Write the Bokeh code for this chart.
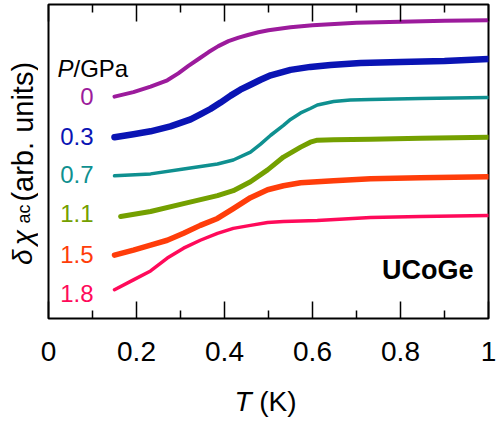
import math
from bokeh.plotting import figure
from bokeh.layouts import row
from bokeh.models import Range1d, Label, LinearAxis, FixedTicker, CustomLabelingPolicy
from bokeh.embed import file_html
from bokeh.resources import INLINE

# ---------------- data ----------------
pressures = ["0", "0.3", "0.7", "1.1", "1.5", "1.8"]
colors = ["#9c1b9c", "#0a14b4", "#0f9090", "#74a000", "#ff3d0a", "#ff0a5a"]
widths = [4, 6.5, 3.5, 5, 5.5, 3.5]

T_0 = [0.150, 0.193, 0.232, 0.270, 0.295, 0.318, 0.341, 0.364, 0.386, 0.409,
       0.432, 0.455, 0.477, 0.500, 0.550, 0.600, 0.700, 0.800, 0.900, 1.000]
chi_0 = [224, 228.5, 234, 240.5, 247.5, 255, 262, 269, 275, 280,
         283.5, 286.5, 289, 291, 294, 296, 298.5, 299.5, 300.5, 301]

T_03 = [0.150, 0.193, 0.232, 0.277, 0.323, 0.345, 0.368, 0.391, 0.414, 0.436,
        0.459, 0.482, 0.505, 0.550, 0.595, 0.641, 0.709, 0.800, 0.900, 1.000]
chi_03 = [183, 186, 189, 194, 201, 206, 211.5, 218, 225, 231,
          236, 241, 245.5, 251, 254, 256, 258, 259, 260, 262]

T_07 = [0.150, 0.232, 0.307, 0.384, 0.420, 0.459, 0.482, 0.505, 0.534, 0.550,
        0.573, 0.595, 0.611, 0.648, 0.686, 0.732, 0.845, 1.000]
chi_07 = [144, 146, 151, 156, 160, 168, 176, 185, 195, 201,
          207.5, 212, 215.5, 219, 220.5, 221, 222, 223]

T_11 = [0.164, 0.232, 0.307, 0.384, 0.420, 0.459, 0.498, 0.534, 0.573, 0.595,
        0.611, 0.648, 0.732, 0.845, 1.000]
chi_11 = [103, 108, 116, 124, 129, 138, 150, 163, 173, 178,
          180, 180.5, 181, 182, 183]

T_15 = [0.150, 0.193, 0.232, 0.270, 0.307, 0.345, 0.384, 0.420, 0.459, 0.498,
        0.534, 0.573, 0.648, 0.732, 0.845, 1.000]
chi_15 = [64, 69, 74, 79, 86, 94, 101, 111, 122, 130,
          134, 137, 139, 141, 142, 143]

T_18 = [0.150, 0.193, 0.232, 0.270, 0.307, 0.345, 0.384, 0.420, 0.459, 0.498,
        0.534, 0.611, 0.732, 0.845, 1.000]
chi_18 = [29, 39, 48, 61, 71, 79, 86, 91, 94, 97,
          98, 99, 102, 103, 104]

series_T = [T_0, T_03, T_07, T_11, T_15, T_18]
series_chi = [chi_0, chi_03, chi_07, chi_11, chi_15, chi_18]

# anchor heights for the pressure labels, in the same arb. units
label_y = [224, 184, 145, 106, 65, 25]

x_ticks = [0, 0.2, 0.4, 0.6, 0.8, 1.0]
x_tick_labels = ["0", "0.2", "0.4", "0.6", "0.8", "1"]
x_minor = [0.1, 0.3, 0.5, 0.7, 0.9]

FONT = "Liberation Sans"
LW = 38  # width of the strip that holds the y-axis title
Y_MAX = 317

p = figure(width=496 - LW, height=425, output_backend="svg", toolbar_location=None,
           x_range=Range1d(0, 1), y_range=Range1d(0, Y_MAX),
           y_axis_type=None,
           min_border_left=48 - LW, min_border_right=8, min_border_top=4,
           min_border_bottom=104)
p.grid.visible = False
p.outline_line_color = "black"
p.outline_line_width = 2
p.background_fill_color = "white"
p.border_fill_color = "white"

xa = p.xaxis[0]
xa.ticker = FixedTicker(ticks=x_ticks, minor_ticks=x_minor)
xa.major_label_overrides = {t: s for t, s in zip(x_ticks, x_tick_labels)}
xa.major_label_text_font = FONT
xa.major_label_text_font_size = "28px"
xa.major_label_text_color = "black"
xa.major_label_standoff = 23
xa.major_tick_in = 17
xa.major_tick_out = 0
xa.minor_tick_in = 8
xa.minor_tick_out = 0
xa.major_tick_line_width = 1.5
xa.minor_tick_line_width = 1.5
xa.axis_line_color = None

top = LinearAxis(ticker=FixedTicker(ticks=x_ticks, minor_ticks=x_minor),
                 major_label_text_font_size="0px", major_label_standoff=0,
                 major_label_policy=CustomLabelingPolicy(code="return []"),
                 major_tick_in=17, major_tick_out=0, minor_tick_in=8, minor_tick_out=0,
                 major_tick_line_width=1.5, minor_tick_line_width=1.5,
                 axis_line_color=None)
p.add_layout(top, "above")

for T, chi, c, w in zip(series_T, series_chi, colors, widths):
    p.line(T, chi, line_color=c, line_width=w, line_join="round", line_cap="round")

def lab(fig, text, x, y, size, color="black", align="left", style="normal",
        angle=0.0, place="center"):
    l = Label(x=x, y=y, text=text, text_font=FONT, text_font_size=size,
              text_color=color, text_align=align, text_font_style=style,
              text_baseline="alphabetic", angle=angle)
    fig.add_layout(l, place)

# pressure labels
for s, c, yy in zip(pressures, colors, label_y):
    lab(p, s, 0.1023, yy, "24px", color=c, align="right")
lab(p, "P", 0.0568, 252.5, "24px", align="right", style="italic")
lab(p, "/GPa", 0.0568, 252.5, "24px", align="left")

lab(p, "UCoGe", 0.9659, 49, "27px", align="right", style="bold")

# x-axis title (in the bottom panel so it is not clipped)
lab(p, "T", 0.4614, -84, "28px", align="right", style="italic", place="below")
lab(p, "\u00a0(K)", 0.4614, -84, "28px", align="left", place="below")

# y-axis title: a narrow strip to the left; its frame lines up with the main frame
q = figure(width=LW, height=425, output_backend="svg", toolbar_location=None,
           x_range=Range1d(0, LW), y_range=Range1d(0, Y_MAX),
           x_axis_type=None, y_axis_type=None, min_border=0)
q.grid.visible = False
q.outline_line_color = None
q.background_fill_color = "white"
q.border_fill_color = "white"

ang = math.pi / 2
lab(q, "δ", 22, 54, "28px", style="italic", angle=ang)
lab(q, "χ", 22, 74, "28px", style="italic", angle=ang)
lab(q, "ac", 23, 96, "18px", angle=ang)
lab(q, "(arb.", 22, 118, "29px", angle=ang)
lab(q, "units)", 22, 259, "29px", align="right", angle=ang)

layout = row(q, p, spacing=0)
open("out.html", "w").write(file_html(layout, INLINE))
